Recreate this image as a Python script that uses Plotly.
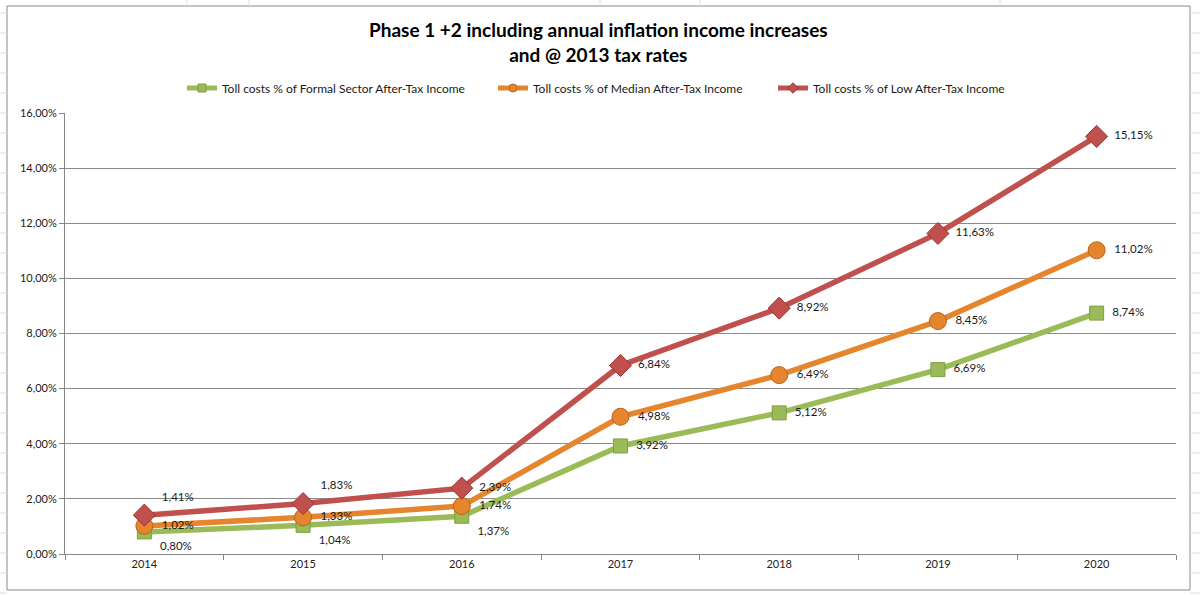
import plotly.graph_objects as go

years = ["2014", "2015", "2016", "2017", "2018", "2019", "2020"]
formal = [0.80, 1.04, 1.37, 3.92, 5.12, 6.69, 8.74]
median = [1.02, 1.33, 1.74, 4.98, 6.49, 8.45, 11.02]
low = [1.41, 1.83, 2.39, 6.84, 8.92, 11.63, 15.15]
yticks = [0, 2, 4, 6, 8, 10, 12, 14, 16]
ytick_text = ["0,00%", "2,00%", "4,00%", "6,00%", "8,00%", "10,00%", "12,00%", "14,00%", "16,00%"]

names = ["Toll costs % of Formal Sector After-Tax Income",
         "Toll costs % of Median After-Tax Income",
         "Toll costs % of Low After-Tax Income"]

FONT = "Lato"

def fmt(v):
    return f"{v:.2f}".replace(".", ",") + "%"

# label positions: nudge the crowded early labels apart
pos_formal = ["bottom right"] * 3 + ["middle right"] * 4
pos_median = ["middle right"] * 7
pos_low = ["top right"] * 2 + ["middle right"] * 5

series = [
    (formal, names[0], "#9BBB59", "square", 14, "legend", "#7F9F3F", pos_formal),
    (median, names[1], "#E5862F", "circle", 17, "legend2", "#B8641A", pos_median),
    (low, names[2], "#C0504D", "diamond", 17, "legend3", "#9A3633", pos_low),
]

fig = go.Figure()
for vals, name, color, sym, size, leg, edge, pos in series:
    fig.add_trace(go.Scatter(
        x=years, y=vals, name=name, mode="lines+markers+text",
        line=dict(color=color, width=5.5),
        marker=dict(symbol=sym, size=size, color=color, line=dict(color=edge, width=1)),
        text=["  " + fmt(v) for v in vals], textposition=pos,
        textfont=dict(family=FONT, size=11.5, color="#1a1a1a"),
        showlegend=False, cliponaxis=False,
    ))
    # small legend symbol like Excel
    fig.add_trace(go.Scatter(
        x=[None], y=[None], name=name, mode="lines+markers",
        line=dict(color=color, width=5),
        marker=dict(symbol=sym, size=8, color=color, line=dict(color=edge, width=1)),
        legend=leg, showlegend=True,
    ))

LY = (554 - 88) / 441
def leg(xpx):
    return dict(x=(xpx - 65) / 1111, y=LY, xanchor="left", yanchor="middle",
                orientation="h", font=dict(size=12, family=FONT, color="#1a1a1a"),
                itemwidth=30, bgcolor="rgba(0,0,0,0)")

fig.update_layout(
    width=1200, height=595,
    margin=dict(l=65, r=24, t=113, b=41),
    paper_bgcolor="white", plot_bgcolor="white",
    font=dict(family=FONT, color="#222"),
    showlegend=True,
    legend=leg(182), legend2=leg(493), legend3=leg(773),
    xaxis=dict(type="category", range=[-0.5, 6.5], showgrid=False,
               showline=True, linecolor="#868686", linewidth=1,
               ticks="outside", tickson="boundaries", ticklen=5, tickcolor="#868686",
               tickfont=dict(size=11, family=FONT, color="#222")),
    yaxis=dict(range=[0, 16], tickvals=yticks, ticktext=ytick_text,
               showgrid=True, gridcolor="#8c8c8c", gridwidth=1,
               showline=True, linecolor="#868686", linewidth=1,
               ticks="outside", ticklen=5, tickcolor="#868686",
               tickfont=dict(size=11, family=FONT, color="#222"), zeroline=False),
    annotations=[dict(
        text="<b>Phase 1 +2 including annual inflation income increases<br>and @ 2013 tax rates</b>",
        xref="paper", yref="paper", x=(598 - 65) / 1111, y=(554 - 42.5) / 441,
        xanchor="center", yanchor="middle", showarrow=False,
        font=dict(family=FONT, size=19, color="#000"), align="center")],
)

shapes = []
# Excel sheet gridlines outside the chart
for yy in range(13, 595, 20):
    shapes.append(dict(type="line", xref="paper", yref="paper",
                       x0=-65 / 1111, x1=-58 / 1111, y0=(554 - yy) / 441, y1=(554 - yy) / 441,
                       line=dict(color="#dcdcdc", width=1)))
    shapes.append(dict(type="line", xref="paper", yref="paper",
                       x0=(1190 - 65) / 1111, x1=(1200 - 65) / 1111, y0=(554 - yy) / 441, y1=(554 - yy) / 441,
                       line=dict(color="#dcdcdc", width=1)))
for xx in [187, 249, 600, 700, 1000]:
    shapes.append(dict(type="line", xref="paper", yref="paper",
                       x0=(xx - 65) / 1111, x1=(xx - 65) / 1111, y0=(554 - 0) / 441, y1=(554 - 6) / 441,
                       line=dict(color="#dcdcdc", width=1)))
# chart border
shapes.append(dict(type="rect", xref="paper", yref="paper",
                   x0=(7 - 65) / 1111, x1=(1190 - 65) / 1111, y0=(554 - 590) / 441, y1=(554 - 6) / 441,
                   line=dict(color="#8a8a8a", width=1), fillcolor="rgba(0,0,0,0)", layer="below"))
fig.update_layout(shapes=shapes)

fig.write_html("out.html")
